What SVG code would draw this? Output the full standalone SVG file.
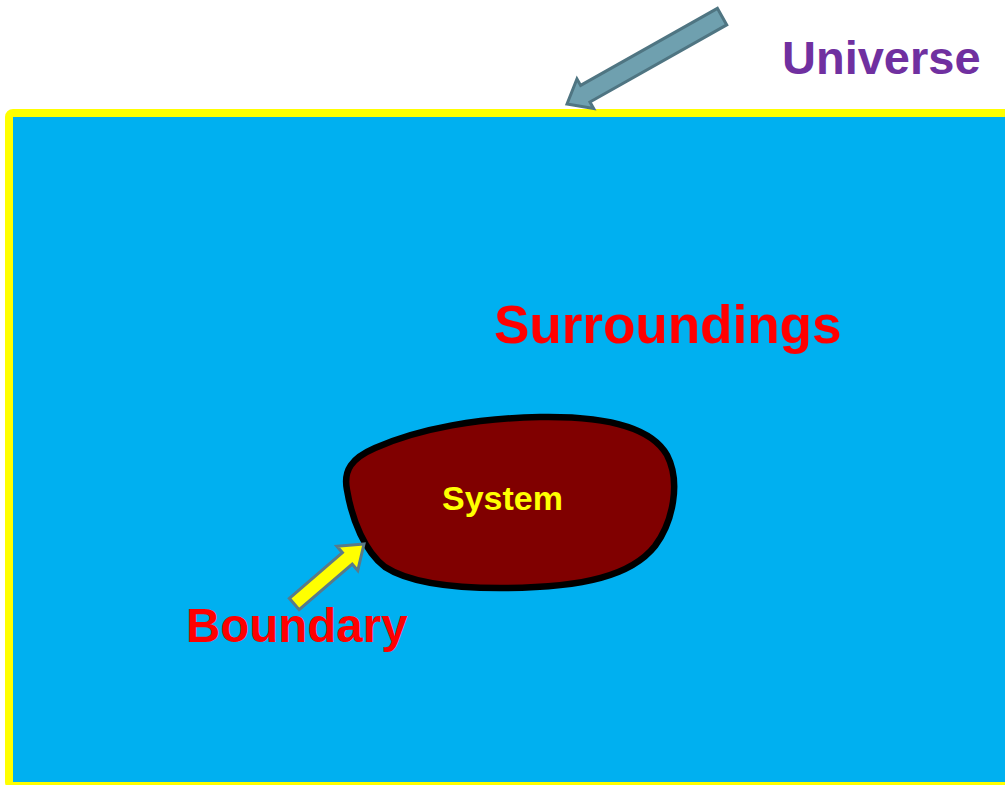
<svg xmlns="http://www.w3.org/2000/svg" width="1005" height="785" viewBox="0 0 1005 785">
<style>
.lbl{font-family:"Liberation Sans",Arial,sans-serif;font-weight:bold}
.red{fill:#FF0000}
</style>
<rect width="1005" height="785" fill="#FFFFFF"/>
<g id="universe-box">
<rect x="9" y="113" width="1010" height="673" rx="4" fill="#00B0F0" stroke="#FFFF00" stroke-width="8"/>
</g>
<g id="universe-label">
<text class="lbl" x="782" y="74" font-size="47" fill="#7030A0">Universe</text>
</g>
<g id="surroundings">
<text class="lbl red" x="494" y="343" font-size="53">Surroundings</text>
</g>
<g id="system">
<path d="M347,490 C343,470 352,458 375,448 C420,428 480,418 540,417 C600,416 650,425 667,455 C681,482 673,522 655,546 C632,575 585,588 500,588 C440,588 405,580 385,567 C365,552 352,520 347,490 Z" fill="#800000" stroke="#000000" stroke-width="6.5"/>
<text class="lbl" x="442" y="510" font-size="34" fill="#FFFF00">System</text>
</g>
<g id="boundary">
<text class="lbl red" x="186" y="642" font-size="47.5">Boundary</text>
</g>
<g id="connectors">
<polygon transform="translate(567,104) rotate(150.6)" points="0,0 -21,-17 -21,-9.5 -178,-9.5 -178,9.5 -21,9.5 -21,17" fill="#6FA0AF" stroke="#4F7582" stroke-width="3" stroke-linejoin="miter"/>
<polygon transform="translate(364,544) rotate(-40.7)" points="0,0 -22,-16 -22,-7.5 -92,-7.5 -92,7.5 -22,7.5 -22,16" fill="#FFFF00" stroke="#5A7A88" stroke-width="3"/>
</g>
</svg>
